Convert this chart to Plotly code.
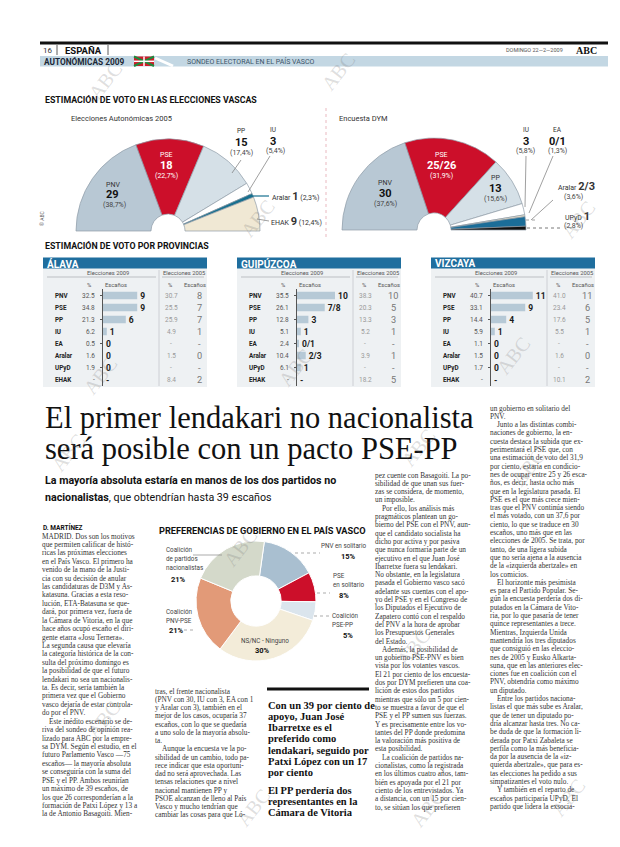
import plotly.graph_objects as go

W, H = 620, 847
SANS = "Roboto"
SERIF = "Liberation Serif"

# ---------------- data ----------------
parl05_parties = ["PNV", "PSE", "PP", "IU", "Aralar", "EHAK"]
parl05_seats = [29, 18, 15, 3, 1, 9]
parl05_seat_labels = ["29", "18", "15", "3", "1", "9"]
parl05_pct = ["(38,7%)", "(22,7%)", "(17,4%)", "(5,4%)", "(2,3%)", "(12,4%)"]
parl05_colors = ["#b8c8d4", "#cc0f2a", "#d5e0e7", "#ffffff", "#17708f", "#f0e8d4"]

dym_parties = ["PNV", "PSE", "PP", "IU", "EA", "Aralar", "UPyD"]
dym_seats = [30, 25.5, 13, 3, 0.5, 2.5, 1]
dym_seat_labels = ["30", "25/26", "13", "3", "0/1", "2/3", "1"]
dym_pct = ["(37,6%)", "(31,9%)", "(15,6%)", "(5,8%)", "(1,3%)", "(3,6%)", "(2,8%)"]
dym_colors = ["#b8c8d4", "#cc0f2a", "#d5e0e7", "#ffffff", "#e9e2cc", "#1b6d98", "#111111"]

prov_parties = ["PNV", "PSE", "PP", "IU", "EA", "Aralar", "UPyD", "EHAK"]
provinces = ["ÁLAVA", "GUIPÚZCOA", "VIZCAYA"]

alava_pct09 = ["32.5", "34.8", "21.3", "6.2", "0.5", "1.6", "1.9", "-"]
alava_seats09 = ["9", "9", "6", "1", "0", "0", "0", "-"]
alava_bar09 = [9, 9, 6, 1, 0, 0, 0, 0]
alava_pct05 = ["30.7", "25.5", "25.9", "4.9", "-", "1.5", "-", "8.4"]
alava_seats05 = ["8", "7", "7", "1", "-", "0", "-", "2"]

guipuzcoa_pct09 = ["35.5", "26.1", "12.8", "5.1", "2.4", "10.4", "6.1", "-"]
guipuzcoa_seats09 = ["10", "7/8", "3", "1", "0/1", "2/3", "1", "-"]
guipuzcoa_bar09 = [10, 7.3, 3, 1, 0.4, 2.3, 1, 0]
guipuzcoa_pct05 = ["38.3", "20.3", "13.3", "5.2", "-", "3.9", "-", "18.2"]
guipuzcoa_seats05 = ["10", "5", "3", "1", "-", "1", "-", "5"]

vizcaya_pct09 = ["40.7", "33.1", "14.4", "5.9", "1.1", "1.5", "1.7", "-"]
vizcaya_seats09 = ["11", "9", "4", "1", "0", "0", "0", "-"]
vizcaya_bar09 = [11, 9, 4, 1, 0, 0, 0, 0]
vizcaya_pct05 = ["41.0", "23.4", "17.6", "5.5", "-", "1.6", "-", "10.1"]
vizcaya_seats05 = ["11", "6", "5", "1", "-", "0", "-", "2"]

pref_labels = ["PNV en solitario", "PSE en solitario", "Coalición PSE-PP",
               "NS/NC - Ninguno", "Coalición PNV-PSE", "Coalición de partidos nacionalistas"]
pref_values = [15, 8, 5, 30, 21, 21]
pref_colors = ["#a9bfd0", "#cc0f2a", "#dbe5ed", "#f3ecd9", "#e29a78", "#d4d9ca"]

col1_lines = [
    "MADRID. Dos son los motivos", "que permiten calificar de histó-",
    "ricas las próximas elecciones", "en el País Vasco. El primero ha",
    "venido de la mano de la Justi-", "cia con su decisión de anular",
    "las candidaturas de D3M y As-", "katasuna. Gracias a esta reso-",
    "lución, ETA-Batasuna se que-", "dará, por primera vez, fuera de",
    "la Cámara de Vitoria, en la que", "hace años ocupó escaño el diri-",
    "gente etarra «Josu Ternera».", "La segunda causa que elevaría",
    "la categoría histórica de la con-", "sulta del próximo domingo es",
    "la posibilidad de que el futuro", "lendakari no sea un nacionalis-",
    "ta. Es decir, sería también la", "primera vez que el Gobierno",
    "vasco dejaría de estar controla-", "do por el PNV.",
    "\tEste inédito escenario se de-", "riva del sondeo de opinión rea-",
    "lizado para ABC por la empre-", "sa DYM. Según el estudio, en el",
    "futuro Parlamento Vasco —75", "escaños— la mayoría absoluta",
    "se conseguiría con la suma del", "PSE y el PP. Ambos reunirían",
    "un máximo de 39 escaños, de", "los que 26 corresponderían a la",
    "formación de Patxi López y 13 a", "la de Antonio Basagoiti. Mien-",
]
col2_lines = [
    "tras, el frente nacionalista", "(PNV con 30, IU con 3, EA con 1",
    "y Aralar con 3), también en el", "mejor de los casos, ocuparía 37",
    "escaños, con lo que se quedaría", "a uno solo de la mayoría absolu-",
    "ta.", "\tAunque la encuesta ve la po-", "sibilidad de un cambio, todo pa-",
    "rece indicar que esta oportuni-", "dad no será aprovechada. Las",
    "tensas relaciones que a nivel", "nacional mantienen PP y",
    "PSOE alcanzan de lleno al País", "Vasco y mucho tendrían que",
    "cambiar las cosas para que Ló-",
]
callout1_lines = ["Con un 39 por ciento de", "apoyo, Juan José", "Ibarretxe es el",
                  "preferido como", "lendakari, seguido por", "Patxi López con un 17",
                  "por ciento"]
callout2_lines = ["El PP perdería dos", "representantes en la", "Cámara de Vitoria"]
col4_lines = [
    "pez cuente con Basagoiti. La po-", "sibilidad de que unan sus fuer-",
    "zas se considera, de momento,", "un imposible.",
    "\tPor ello, los análisis más", "pragmáticos plantean un go-",
    "bierno del PSE con el PNV, aun-", "que el candidato socialista ha",
    "dicho por activa y por pasiva", "que nunca formaría parte de un",
    "ejecutivo en el que Juan José", "Ibarretxe fuera su lendakari.",
    "No obstante, en la legislatura", "pasada el Gobierno vasco sacó",
    "adelante sus cuentas con el apo-", "yo del PSE y en el Congreso de",
    "los Diputados el Ejecutivo de", "Zapatero contó con el respaldo",
    "del PNV a la hora de aprobar", "los Presupuestos Generales",
    "del Estado.", "\tAdemás, la posibilidad de",
    "un gobierno PSE-PNV es bien", "vista por los votantes vascos.",
    "El 21 por ciento de los encuesta-", "dos por DYM prefieren una coa-",
    "lición de estos dos partidos", "mientras que sólo un 5 por cien-",
    "to se muestra a favor de que el", "PSE y el PP sumen sus fuerzas.",
    "Y es precisamente entre los vo-", "tantes del PP donde predomina",
    "la valoración más positiva de", "esta posibilidad.",
    "\tLa coalición de partidos na-", "cionalistas, como la registrada",
    "en los últimos cuatro años, tam-", "bién es apoyada por el 21 por",
    "ciento de los entrevistados. Ya", "a distancia, con un 15 por cien-",
    "to, se sitúan los que prefieren",
]
col5_lines = [
    "un gobierno en solitario del", "PNV.",
    "\tJunto a las distintas combi-", "naciones de gobierno, la en-",
    "cuesta destaca la subida que ex-", "perimentará el PSE que, con",
    "una estimación de voto del 31,9", "por ciento, estaría en condicio-",
    "nes de ocupar entre 25 y 26 esca-", "ños, es decir, hasta ocho más",
    "que en la legislatura pasada. El", "PSE es el que más crece mien-",
    "tras que el PNV continúa siendo", "el más votado, con un 37,6 por",
    "ciento, lo que se traduce en 30", "escaños, uno más que en las",
    "elecciones de 2005. Se trata, por", "tanto, de una ligera subida",
    "que no sería ajena a la ausencia", "de la «izquierda abertzale» en",
    "los comicios.", "\tEl horizonte más pesimista",
    "es para el Partido Popular. Se-", "gún la encuesta perdería dos di-",
    "putados en la Cámara de Vito-", "ria, por lo que pasaría de tener",
    "quince representantes a trece.", "Mientras, Izquierda Unida",
    "mantendría los tres diputados", "que consiguió en las eleccio-",
    "nes de 2005 y Eusko Alkarta-", "suna, que en las anteriores elec-",
    "ciones fue en coalición con el", "PNV, obtendría como máximo",
    "un diputado.", "\tEntre los partidos naciona-",
    "listas el que más sube es Aralar,", "que de tener un diputado po-",
    "dría alcanzar hasta tres. No ca-", "be duda de que la formación li-",
    "derada por Patxi Zabaleta se", "perfila como la más beneficia-",
    "da por la ausencia de la «iz-", "quierda abertzale», que para es-",
    "tas elecciones ha pedido a sus", "simpatizantes el voto nulo.",
    "\tY también en el reparto de", "escaños participaría UPyD. El",
    "partido que lidera la exsocia-",
]

# ---------------- helpers ----------------
anns, shapes = [], []


def X(px):
    return px / W


def Y(py):
    return 1 - py / H


def txt(x, y, s, size=8, color="#222", family=SANS, xa="left", ya="middle", angle=0):
    anns.append(dict(x=X(x), y=Y(y), xref="paper", yref="paper", text=s, showarrow=False,
                     xanchor=xa, yanchor=ya, textangle=angle, borderpad=0,
                     font=dict(size=size, color=color, family=family)))


def line(x0, y0, x1, y1, color="#000", w=1, dash=None):
    d = dict(type="line", xref="paper", yref="paper", x0=X(x0), y0=Y(y0), x1=X(x1), y1=Y(y1),
             line=dict(color=color, width=w))
    if dash:
        d["line"]["dash"] = dash
    shapes.append(d)


def rect(x0, y0, x1, y1, fill, layer="below", lc=None, lw=0):
    shapes.append(dict(type="rect", xref="paper", yref="paper", x0=X(x0), y0=Y(y0), x1=X(x1), y1=Y(y1),
                       fillcolor=fill, layer=layer, line=dict(color=lc or fill, width=lw)))


fig = go.Figure()

# ---------------- page header ----------------
rect(32, 33.5, 600, 36.5, "#111")
txt(34, 42, "16", size=8, color="#333")
line(49, 37, 49, 47, "#333", 0.8)
txt(56, 42, "<b>ESPAÑA</b>", size=9.5, color="#111")
line(100, 37, 100, 47, "#333", 0.8)
txt(497, 42, "DOMINGO 22—2—2009", size=5.5, color="#555")
txt(567, 42, "<b>ABC</b>", size=10, color="#111", family=SERIF)
rect(32, 48, 600, 58.5, "#c3d7e3")
txt(35, 53.3, "<b>AUTONÓMICAS 2009</b>", size=8.3, color="#1b2735")
# small ikurriña style flag
rect(126, 48.5, 146, 58, "#d01c2b", layer="above")
line(126, 48.5, 146, 58, "#1f8a3c", 2)
line(126, 58, 146, 48.5, "#1f8a3c", 2)
line(136, 48.5, 136, 58, "#ffffff", 1.5)
line(126, 53.3, 146, 53.3, "#ffffff", 1.5)
line(147, 50, 165, 58, "#ffffff", 3)
txt(178, 53.3, "SONDEO ELECTORAL EN EL PAÍS VASCO", size=7, color="#3a5368")

# ---------------- semicircle charts ----------------
txt(36, 92, "<b>ESTIMACIÓN DE VOTO EN LAS ELECCIONES VASCAS</b>", size=8.8, color="#111")
txt(62, 110, "Elecciones Autonómicas 2005", size=7.5, color="#333")
txt(330, 110, "Encuesta DYM", size=7.5, color="#333")
line(318, 100, 318, 232, "#e3a7b0", 0.8, "dot")
txt(34, 210, "© ABC", size=5, color="#666", angle=-90, xa="center")


def semicircle(values, colors, cx, cy, r):
    n = len(values)
    fig.add_trace(go.Pie(
        values=list(values) + [sum(values)],
        labels=[f"s{i}" for i in range(n + 1)],
        sort=False, direction="clockwise", rotation=-90, hole=0.185,
        marker=dict(colors=list(colors) + ["rgba(0,0,0,0)"],
                    line=dict(color=["#8f9ca7"] * n + ["rgba(0,0,0,0)"], width=[0.7] * n + [0])),
        textinfo="none", hoverinfo="skip", showlegend=False,
        domain=dict(x=[X(cx - r), X(cx + r)], y=[Y(cy + r), Y(cy - r)])))


semicircle(parl05_seats, parl05_colors, 160, 223, 92)
semicircle(dym_seats, dym_colors, 426, 222, 92)

# labels 2005
L = {p: i for i, p in enumerate(parl05_parties)}
i = L["PNV"]; txt(105, 177, "PNV", 7, "#333", xa="center"); txt(105, 187, f"<b>{parl05_seat_labels[i]}</b>", 11, "#111", xa="center"); txt(106, 197, parl05_pct[i], 7, "#444", xa="center")
i = L["PSE"]; txt(158, 147, "PSE", 7, "#fff", xa="center"); txt(158, 158, f"<b>{parl05_seat_labels[i]}</b>", 11, "#fff", xa="center"); txt(158, 168, parl05_pct[i], 7, "#fff", xa="center")
i = L["PP"]; txt(233, 123, "PP", 6.5, "#333", xa="center"); txt(233, 134, f"<b>{parl05_seat_labels[i]}</b>", 11, "#111", xa="center"); txt(233, 145, parl05_pct[i], 7, "#444", xa="center")
i = L["IU"]; txt(265, 122, "IU", 6.5, "#333", xa="center"); txt(265, 133, f"<b>{parl05_seat_labels[i]}</b>", 11, "#111", xa="center"); txt(267, 143, parl05_pct[i], 7, "#444", xa="center")
i = L["Aralar"]; txt(263, 188, f"Aralar <b><span style='font-size:11px'>{parl05_seat_labels[i]}</span></b> {parl05_pct[i]}", 7, "#333")
i = L["EHAK"]; txt(262, 213, f"EHAK <b><span style='font-size:11px'>{parl05_seat_labels[i]}</span></b> {parl05_pct[i]}", 7, "#333")
line(233, 152, 224, 165, "#777", 0.7)
line(262, 148, 240, 184, "#777", 0.7)
line(240, 188, 261, 188, "#177090", 1.2)
line(249, 211, 261, 213, "#777", 0.7)

# labels DYM
D = {p: i for i, p in enumerate(dym_parties)}
i = D["PNV"]; txt(377, 175, "PNV", 7, "#333", xa="center"); txt(377, 186, f"<b>{dym_seat_labels[i]}</b>", 11, "#111", xa="center"); txt(378, 196, dym_pct[i], 7, "#444", xa="center")
i = D["PSE"]; txt(433, 147, "PSE", 7, "#fff", xa="center"); txt(433, 158, f"<b>{dym_seat_labels[i]}</b>", 11, "#fff", xa="center"); txt(433, 168, dym_pct[i], 7, "#fff", xa="center")
i = D["PP"]; txt(487, 170, "PP", 7, "#333", xa="center"); txt(487, 181, f"<b>{dym_seat_labels[i]}</b>", 11, "#111", xa="center"); txt(487, 191, dym_pct[i], 7, "#444", xa="center")
i = D["IU"]; txt(518, 122, "IU", 6.5, "#333", xa="center"); txt(518, 133, f"<b>{dym_seat_labels[i]}</b>", 11, "#111", xa="center"); txt(517, 143, dym_pct[i], 7, "#444", xa="center")
i = D["EA"]; txt(549, 122, "EA", 6.5, "#333", xa="center"); txt(549, 133, f"<b>{dym_seat_labels[i]}</b>", 11, "#111", xa="center"); txt(549, 143, dym_pct[i], 7, "#444", xa="center")
i = D["Aralar"]; txt(549, 178, f"Aralar <b><span style='font-size:11px'>{dym_seat_labels[i]}</span></b>", 7, "#333"); txt(565, 189, dym_pct[i], 7, "#444", xa="center")
i = D["UPyD"]; txt(556, 208, f"UPyD <b><span style='font-size:11px'>{dym_seat_labels[i]}</span></b>", 7, "#333"); txt(565, 218, dym_pct[i], 7, "#444", xa="center")
line(518, 148, 517, 199, "#777", 0.7)
line(545, 148, 521, 205, "#777", 0.7)
line(545, 192, 523, 212, "#777", 0.7)
line(518, 212, 528, 212, "#777", 0.7, "dot")
line(519, 220, 555, 220, "#555", 0.8, "dot")

# ---------------- provincial tables ----------------
txt(36, 238, "<b>ESTIMACIÓN DE VOTO POR PROVINCIAS</b>", size=8.8, color="#111")
tables = [
    (provinces[0], 35, alava_pct09, alava_seats09, alava_bar09, alava_pct05, alava_seats05),
    (provinces[1], 229, guipuzcoa_pct09, guipuzcoa_seats09, guipuzcoa_bar09, guipuzcoa_pct05, guipuzcoa_seats05),
    (provinces[2], 423, vizcaya_pct09, vizcaya_seats09, vizcaya_bar09, vizcaya_pct05, vizcaya_seats05),
]
PX_PER_SEAT = 3.8
ROW_TOP, ROW_BOT = 281, 378
layout_axes = {}
for k, (name, x0, p09, s09, b09, p05, s05) in enumerate(tables):
    ax = k + 2
    bar_start = x0 + 60
    rect(x0, 260, x0 + 164, 379, "#eef1f3")
    rect(x0, 249.5, x0 + 164, 260.5, "#1f6e9e")
    txt(x0 + 3, 255.5, f"<b>{name}</b>", 10, "#ffffff")
    line(x0 + 116, 262, x0 + 116, 378, "#c4c8cc", 0.8)
    txt(x0 + 65, 265, "Elecciones 2009", 5.8, "#555", xa="center")
    txt(x0 + 141, 265, "Elecciones 2005", 5.8, "#555", xa="center")
    line(x0 + 4, 269, x0 + 113, 269, "#9aa0a6", 0.6)
    line(x0 + 119, 269, x0 + 161, 269, "#9aa0a6", 0.6)
    txt(x0 + 46, 277, "%", 5.8, "#555", xa="center")
    txt(x0 + 73, 277, "Escaños", 5.8, "#555", xa="center")
    txt(x0 + 127, 277, "%", 5.8, "#555", xa="center")
    txt(x0 + 152, 277, "Escaños", 5.8, "#555", xa="center")

    fig.add_trace(go.Bar(
        x=b09, y=prov_parties, orientation="h", xaxis=f"x{ax}", yaxis=f"y{ax}",
        marker=dict(color="#b6c9d6", line=dict(width=0)), width=0.62,
        text=s09, textposition="outside", cliponaxis=False, constraintext="none",
        textfont=dict(family=SANS, size=8.5, color="#1a1a1a", weight="bold"),
        hoverinfo="skip", showlegend=False))
    layout_axes[f"xaxis{ax}"] = dict(domain=[X(bar_start), X(bar_start + 12 * PX_PER_SEAT)], range=[0, 12],
                                     visible=False, anchor=f"y{ax}", fixedrange=True)
    layout_axes[f"yaxis{ax}"] = dict(domain=[Y(ROW_BOT), Y(ROW_TOP)], type="category",
                                     categoryorder="array", categoryarray=prov_parties,
                                     autorange="reversed", showticklabels=False, showline=True,
                                     linecolor="#555", linewidth=1, ticks="outside", ticklen=2,
                                     tickcolor="#555", showgrid=False, zeroline=False,
                                     anchor=f"x{ax}", fixedrange=True)
    for j, p in enumerate(prov_parties):
        common = dict(xref="paper", yref=f"y{ax}", y=p, showarrow=False, yanchor="middle", borderpad=0)
        anns.append(dict(x=X(x0 + 11), text=f"<b>{p}</b>", xanchor="left",
                         font=dict(size=6.3, color="#222", family=SANS), **common))
        anns.append(dict(x=X(x0 + 53), text=p09[j], xanchor="right",
                         font=dict(size=6.5, color="#555", family=SANS), **common))
        anns.append(dict(x=X(x0 + 128), text=p05[j], xanchor="center",
                         font=dict(size=6.5, color="#999", family=SANS), **common))
        anns.append(dict(x=X(x0 + 156), text=s05[j], xanchor="center",
                         font=dict(size=9.2, color="#777", family=SANS), **common))

# ---------------- headline ----------------
txt(36, 409.5, "El primer lendakari no nacionalista", 30.5, "#111", family=SERIF)
txt(36, 440.5, "será posible con un pacto PSE-PP", 30.5, "#111", family=SERIF)
txt(36, 472, "<b>La mayoría absoluta estaría en manos de los dos partidos no</b>", 10.7, "#111")
txt(36, 489, "<b>nacionalistas</b>, que obtendrían hasta 39 escaños", 10.7, "#111")


def column(lines, x, y0, dy, size=7.3, color="#333", family=SERIF, indent=7):
    for n, s in enumerate(lines):
        xo = x
        if s.startswith("\t"):
            s = s[1:]
            xo = x + indent
        txt(xo, y0 + n * dy, s, size, color, family=family)


txt(34, 519, "<b>D. MARTÍNEZ</b>", 6.5, "#111")
column(col1_lines, 33, 528, 8.42)
column(col2_lines, 146, 683, 8.25)
column(col4_lines, 366, 467, 8.3)
column(col5_lines, 481, 400, 8.3)

rect(259, 679.5, 361, 682.5, "#111", layer="above")
for n, s in enumerate(callout1_lines):
    txt(259, 697 + n * 11.3, f"<b>{s}</b>", 10.5, "#111", family=SERIF)
for n, s in enumerate(callout2_lines):
    txt(259, 782 + n * 11.3, f"<b>{s}</b>", 10.5, "#111", family=SERIF)

# ---------------- preferences donut ----------------
txt(150, 522, "<b>PREFERENCIAS DE GOBIERNO EN EL PAÍS VASCO</b>", 9.2, "#111")
fig.add_trace(go.Pie(
    values=pref_values, labels=pref_labels, sort=False, direction="clockwise", rotation=8,
    hole=0.42, marker=dict(colors=pref_colors, line=dict(color="#ffffff", width=1)),
    textinfo="none", hoverinfo="skip", showlegend=False,
    domain=dict(x=[X(188), X(308)], y=[Y(653), Y(533)])))
P = {p: i for i, p in enumerate(pref_labels)}
txt(157, 542, "Coalición", 6.3, "#444"); txt(157, 551, "de partidos", 6.3, "#444"); txt(157, 560, "nacionalistas", 6.3, "#444")
txt(162, 571, f"<b>{pref_values[P['Coalición de partidos nacionalistas']]}%</b>", 7.5, "#111")
line(185, 547, 214, 547, "#888", 0.7)
txt(157, 604, "Coalición", 6.3, "#444"); txt(157, 613, "PNV-PSE", 6.3, "#444")
txt(160, 622, f"<b>{pref_values[P['Coalición PNV-PSE']]}%</b>", 7.5, "#111")
line(176, 622, 188, 622, "#888", 0.7, "dot")
txt(312, 538, "PNV en solitario", 6.3, "#444")
txt(332, 548, f"<b>{pref_values[P['PNV en solitario']]}%</b>", 7.5, "#111")
line(287, 545, 312, 545, "#888", 0.7, "dot")
txt(324, 568, "PSE", 6.3, "#444"); txt(324, 577, "en solitario", 6.3, "#444")
txt(330, 587, f"<b>{pref_values[P['PSE en solitario']]}%</b>", 7.5, "#111")
line(309, 585, 322, 585, "#888", 0.7, "dot")
txt(323, 608, "Coalición", 6.3, "#444"); txt(323, 617, "PSE-PP", 6.3, "#444")
txt(334, 627, f"<b>{pref_values[P['Coalición PSE-PP']]}%</b>", 7.5, "#111")
line(306, 608, 322, 608, "#888", 0.7, "dot")
txt(257, 633, "NS/NC - Ninguno", 6.3, "#444", xa="center")
txt(254, 642, f"<b>{pref_values[P['NS/NC - Ninguno']]}%</b>", 7.5, "#111", xa="center")

# ---------------- watermarks ----------------
for (wx, wy) in [(97, 73), (330, 64), (250, 210), (570, 212), (92, 368), (287, 360), (505, 348),
                 (60, 445), (410, 440), (232, 540), (95, 712), (405, 640), (520, 460), (560, 790),
                 (245, 800), (420, 800)]:
    txt(wx, wy, "ABC", 20, "rgba(110,110,110,0.22)", family=SERIF, xa="center", angle=-52)

fig.update_layout(
    width=W, height=H, margin=dict(l=0, r=0, t=0, b=0),
    paper_bgcolor="#ffffff", plot_bgcolor="rgba(0,0,0,0)",
    font=dict(family=SANS, color="#222"),
    annotations=anns, shapes=shapes, showlegend=False, bargap=0.35,
    **layout_axes)

fig.write_html("out.html", config={"displayModeBar": False})
